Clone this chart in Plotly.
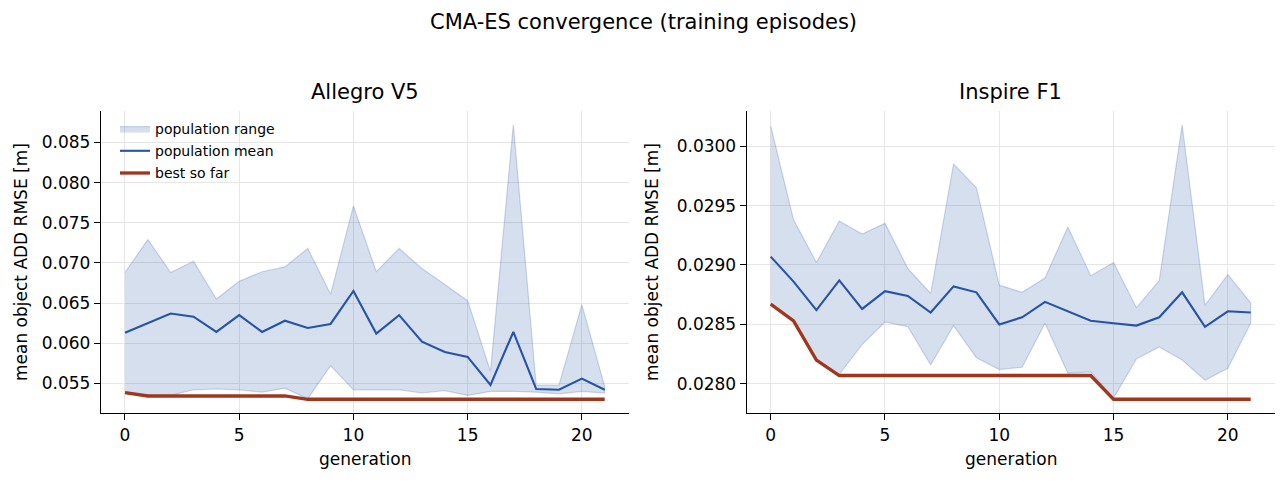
import plotly.graph_objects as go

# ---------------- data ----------------
generations = list(range(22))

allegro_upper = [0.0688, 0.0729, 0.0688, 0.0702, 0.0655, 0.0677, 0.0689, 0.0695, 0.0718, 0.0661, 0.0771,
                 0.0689, 0.0718, 0.0693, 0.0673, 0.0653, 0.0565, 0.0872, 0.0548, 0.0548, 0.0648, 0.0546]
allegro_lower = [0.0538, 0.0535, 0.0535, 0.0542, 0.0543, 0.0542, 0.0539, 0.0544, 0.0531, 0.0572, 0.0542,
                 0.0542, 0.0542, 0.0538, 0.0541, 0.0535, 0.0540, 0.0540, 0.0539, 0.0537, 0.0540, 0.0538]
allegro_mean = [0.0613, 0.0625, 0.0637, 0.0633, 0.0614, 0.0635, 0.0614, 0.0628, 0.0619, 0.0624, 0.0665,
                0.0612, 0.0635, 0.0602, 0.0589, 0.0583, 0.0548, 0.0614, 0.0543, 0.0542, 0.0556, 0.0542]
allegro_best = [0.05384, 0.05343, 0.05343, 0.05343, 0.05343, 0.05343, 0.05343, 0.05343, 0.05302, 0.05302, 0.05302,
                0.05302, 0.05302, 0.05302, 0.05302, 0.05302, 0.05302, 0.05302, 0.05302, 0.05302, 0.05302, 0.05302]

inspire_upper = [0.03017, 0.02938, 0.02902, 0.02937, 0.02926, 0.02935, 0.02897, 0.02876, 0.02985, 0.02965, 0.02883,
                 0.02877, 0.02889, 0.02932, 0.02891, 0.02902, 0.02864, 0.02887, 0.03018, 0.02866, 0.02892, 0.02868]
inspire_lower = [0.02867, 0.02853, 0.02820, 0.02808, 0.02833, 0.02852, 0.02848, 0.02816, 0.02849, 0.02822, 0.02812,
                 0.02814, 0.02851, 0.02809, 0.02810, 0.02788, 0.02821, 0.02831, 0.02820, 0.02803, 0.02813, 0.02851]
inspire_mean = [0.02907, 0.02886, 0.02862, 0.02887, 0.02863, 0.02878, 0.02874, 0.02860, 0.02882, 0.02877, 0.02850,
                0.02856, 0.02869, 0.02861, 0.02853, 0.02851, 0.02849, 0.02856, 0.02877, 0.02848, 0.02861, 0.02860]
inspire_best = [0.02867, 0.02853, 0.02820, 0.02807, 0.02807, 0.02807, 0.02807, 0.02807, 0.02807, 0.02807, 0.02807,
                0.02807, 0.02807, 0.02807, 0.02807, 0.02787, 0.02787, 0.02787, 0.02787, 0.02787, 0.02787, 0.02787]

panel_titles = ["Allegro V5", "Inspire F1"]
suptitle = "CMA-ES convergence (training episodes)"
x_label = "generation"
y_label = "mean object ADD RMSE [m]"
legend_names = ["population range", "population mean", "best so far"]

# ---------------- style ----------------
W, H = 1287, 483
FONT = "DejaVu Sans"
MEAN_C = "#2653a5"
BEST_C = "#a0361b"
FILL_C = "rgba(38,83,165,0.19)"
EDGE_C = "rgba(38,83,165,0.22)"


def px(x):
    return x / W


def py(y):
    return 1 - y / H


panels = [
    dict(upper=allegro_upper, lower=allegro_lower, mean=allegro_mean, best=allegro_best,
         xdom=[px(101), px(628.7)], fmt=".3f", dtick=0.005, ylab_x=21),
    dict(upper=inspire_upper, lower=inspire_lower, mean=inspire_mean, best=inspire_best,
         xdom=[px(746.7), px(1274.7)], fmt=".4f", dtick=0.0005, ylab_x=652),
]
ydom = [py(413), py(111)]

fig = go.Figure()
layout = dict(
    width=W, height=H,
    margin=dict(l=0, r=0, t=0, b=0),
    paper_bgcolor="white", plot_bgcolor="white",
    font=dict(family=FONT, size=17, color="black"),
    showlegend=True,
    legend=dict(x=px(115), y=py(113), xanchor="left", yanchor="top",
                bgcolor="rgba(0,0,0,0)", font=dict(size=14, family=FONT),
                tracegroupgap=1, itemwidth=30),
    annotations=[],
)

for i, p in enumerate(panels):
    k = "" if i == 0 else str(i + 1)
    xa, ya = "x" + k, "y" + k
    show = i == 0
    xpoly = generations + generations[::-1]
    ypoly = list(p["upper"]) + list(p["lower"])[::-1]
    fig.add_trace(go.Scatter(x=xpoly, y=ypoly, fill="toself", fillcolor=FILL_C,
                             mode="lines", line=dict(color=EDGE_C, width=1.2),
                             name=legend_names[0], legendgroup="g0", showlegend=show,
                             xaxis=xa, yaxis=ya, hoverinfo="skip"))
    fig.add_trace(go.Scatter(x=generations, y=p["mean"], mode="lines",
                             line=dict(color=MEAN_C, width=2.1),
                             name=legend_names[1], legendgroup="g1", showlegend=show,
                             xaxis=xa, yaxis=ya))
    fig.add_trace(go.Scatter(x=generations, y=p["best"], mode="lines",
                             line=dict(color=BEST_C, width=3.3),
                             name=legend_names[2], legendgroup="g2", showlegend=show,
                             xaxis=xa, yaxis=ya))

    allv = p["upper"] + p["lower"] + p["mean"] + p["best"]
    lo, hi = min(allv), max(allv)
    pad = (hi - lo) * 0.05
    n = len(generations) - 1
    axis_common = dict(showline=True, linecolor="black", linewidth=1.3, mirror=False,
                       ticks="outside", ticklen=6, tickwidth=1.3, tickcolor="black",
                       showgrid=True, gridcolor="#e6e6e6", gridwidth=1.2, zeroline=False,
                       tickfont=dict(size=17, family=FONT, color="black"))
    layout["xaxis" + k] = dict(domain=p["xdom"], anchor=ya, range=[-0.05 * n, n * 1.05],
                               tick0=0, dtick=5, **axis_common)
    layout["yaxis" + k] = dict(domain=ydom, anchor=xa, range=[lo - pad, hi + pad],
                               tick0=0, dtick=p["dtick"], tickformat=p["fmt"], **axis_common)

    xc = (p["xdom"][0] + p["xdom"][1]) / 2
    layout["annotations"] += [
        dict(text=panel_titles[i], x=xc, y=py(92), xref="paper", yref="paper",
             xanchor="center", yanchor="middle", showarrow=False,
             font=dict(size=21, family=FONT, color="black")),
        dict(text=x_label, x=xc, y=py(459), xref="paper", yref="paper",
             xanchor="center", yanchor="middle", showarrow=False,
             font=dict(size=17, family=FONT, color="black")),
        dict(text=y_label, x=px(p["ylab_x"]), y=(ydom[0] + ydom[1]) / 2, xref="paper", yref="paper",
             xanchor="center", yanchor="middle", showarrow=False, textangle=-90,
             font=dict(size=17, family=FONT, color="black")),
    ]

layout["annotations"].append(
    dict(text=suptitle, x=0.5, y=py(22), xref="paper", yref="paper",
         xanchor="center", yanchor="middle", showarrow=False,
         font=dict(size=21, family=FONT, color="black")))

fig.update_layout(**layout)
fig.write_html("out.html")
